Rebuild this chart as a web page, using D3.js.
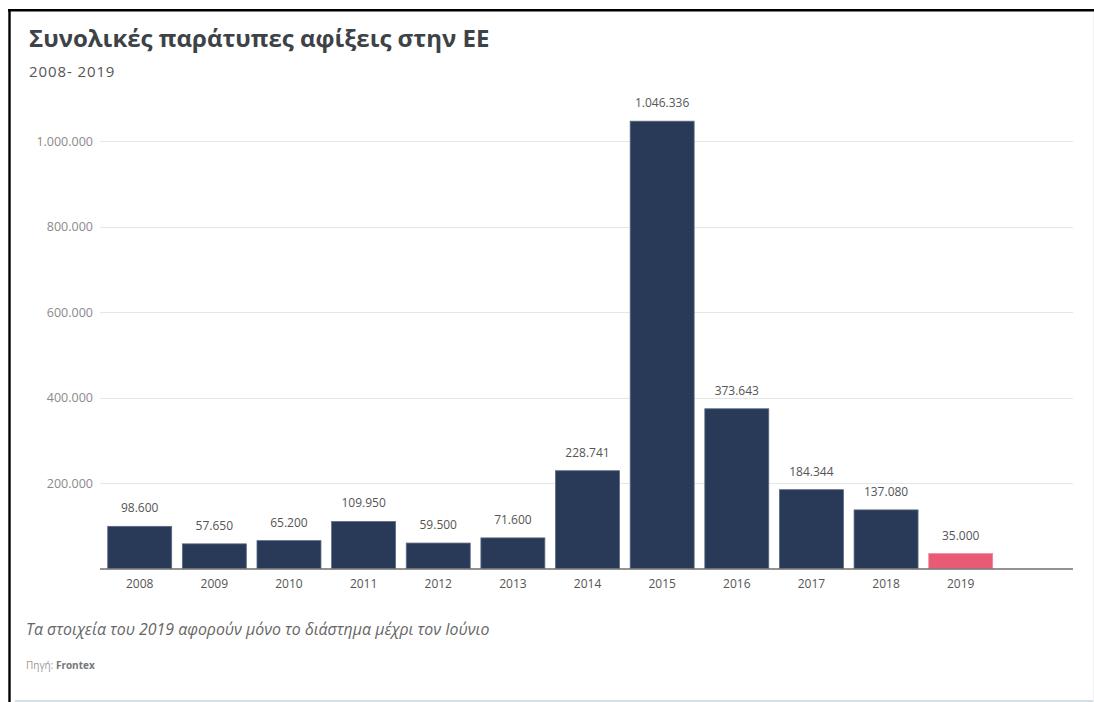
<!DOCTYPE html>
<html>
<head>
<meta charset="utf-8">
<script src="https://cdn.jsdelivr.net/npm/d3@7"></script>
<style>
  html, body { margin: 0; padding: 0; background: #fff; }
  svg { display: block; }
</style>
</head>
<body>
<svg id="chart" width="1094" height="702"></svg>
<script>
// Irregular arrivals in the EU per year (Frontex)
const years = ["2008","2009","2010","2011","2012","2013","2014","2015","2016","2017","2018","2019"];
const arrivals = [98600, 57650, 65200, 109950, 59500, 71600, 228741, 1046336, 373643, 184344, 137080, 35000];
const partialYears = ["2019"];
const yTicks = [200000, 400000, 600000, 800000, 1000000];

const title = "Συνολικές παράτυπες αφίξεις στην ΕΕ";
const subtitle = "2008- 2019";
const note = "Τα στοιχεία του 2019 αφορούν μόνο το διάστημα μέχρι τον Ιούνιο";
const sourceLabel = "Πηγή: ";
const sourceName = "Frontex";

const locale = d3.formatLocale({ decimal: ",", thousands: ".", grouping: [3], currency: ["", "€"] });
const fmt = locale.format(",d");

const svg = d3.select("#chart");
const W = 1094, H = 702;
const FONT = "'Open Sans', 'Noto Sans', sans-serif";

// frame
svg.append("rect").attr("x", 0).attr("y", 0).attr("width", W).attr("height", H).attr("fill", "#fff");
svg.append("line").attr("x1", 15).attr("x2", W).attr("y1", 701).attr("y2", 701)
  .attr("stroke", "#d3dfe2").attr("stroke-width", 2);
svg.append("line").attr("x1", 1093.5).attr("x2", 1093.5).attr("y1", 11).attr("y2", H)
  .attr("stroke", "#f2f2f2").attr("stroke-width", 1);
svg.append("line").attr("x1", 8).attr("x2", W).attr("y1", 10.2).attr("y2", 10.2)
  .attr("stroke", "#000").attr("stroke-width", 2.4);
svg.append("line").attr("x1", 9.5).attr("x2", 9.5).attr("y1", 9).attr("y2", H)
  .attr("stroke", "#000").attr("stroke-width", 2.4);

// headings
svg.append("text").attr("x", 29).attr("y", 47)
  .attr("font-family", FONT).attr("font-weight", 700).attr("font-size", 24)
  .attr("fill", "#3d4247").text(title);
svg.append("text").attr("x", 29).attr("y", 77)
  .attr("font-family", FONT).attr("font-size", 15).attr("letter-spacing", 0.9)
  .attr("fill", "#555").text(subtitle);

// scales
const x = d3.scaleBand().domain(years).range([102.4, 998.0]).paddingInner(0.143).paddingOuter(0.0713);
const y = d3.scaleLinear().domain([0, 1000000]).range([568.5, 141]);
const plotLeft = 100, plotRight = 1073;

// gridlines
svg.append("g").selectAll("line").data(yTicks).join("line")
  .attr("x1", plotLeft).attr("x2", plotRight)
  .attr("y1", d => Math.round(y(d)) + 0.5).attr("y2", d => Math.round(y(d)) + 0.5)
  .attr("stroke", "#e6e6e6").attr("stroke-width", 1);

// y axis labels
const yAxis = d3.axisLeft(y).tickValues(yTicks).tickFormat(fmt).tickSize(0).tickPadding(0);
const gy = svg.append("g").attr("transform", "translate(93,0)").call(yAxis);
gy.select(".domain").remove();
gy.selectAll("text").attr("font-family", FONT).attr("font-size", 12.5).attr("fill", "#8a8a8a");

// bars
svg.append("g").selectAll("rect").data(years).join("rect")
  .attr("x", d => x(d))
  .attr("width", x.bandwidth())
  .attr("y", (d, i) => y(arrivals[i]))
  .attr("height", (d, i) => y(0) - y(arrivals[i]))
  .attr("fill", d => partialYears.includes(d) ? "#e95a74" : "#283a58")
  .attr("stroke", d => partialYears.includes(d) ? "#f28a9c" : "#5b6a82")
  .attr("stroke-width", 0.8);

// value labels
svg.append("g").selectAll("text").data(years).join("text")
  .attr("x", d => x(d) + x.bandwidth() / 2)
  .attr("y", (d, i) => y(arrivals[i]) - 14)
  .attr("text-anchor", "middle")
  .attr("font-family", FONT).attr("font-size", 12).attr("fill", "#555")
  .text((d, i) => fmt(arrivals[i]));

// baseline
svg.append("line").attr("x1", plotLeft).attr("x2", plotRight)
  .attr("y1", y(0) + 0.5).attr("y2", y(0) + 0.5)
  .attr("stroke", "#6f6f6f").attr("stroke-width", 1.5);

// x axis labels
const xAxis = d3.axisBottom(x).tickSize(0).tickPadding(0);
const gx = svg.append("g").attr("transform", "translate(0,579)").call(xAxis);
gx.select(".domain").remove();
gx.selectAll("text").attr("font-family", FONT).attr("font-size", 12).attr("fill", "#555");

// footnote and source
svg.append("text").attr("x", 26).attr("y", 635)
  .attr("font-family", FONT).attr("font-style", "italic").attr("font-size", 15.9)
  .attr("fill", "#666").text(note);
const src = svg.append("text").attr("x", 26).attr("y", 669)
  .attr("font-family", FONT).attr("font-size", 10).attr("fill", "#999");
src.append("tspan").text(sourceLabel);
src.append("tspan").attr("font-weight", 700).attr("fill", "#777").text(sourceName);
</script>
</body>
</html>
